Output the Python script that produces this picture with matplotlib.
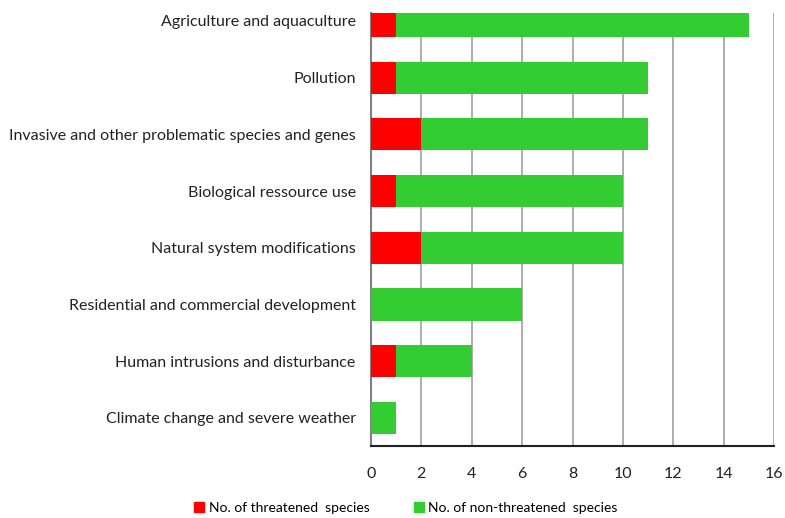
import matplotlib
matplotlib.use("Agg")
import matplotlib.pyplot as plt
from matplotlib.patches import Patch

categories = [
    "Agriculture and aquaculture",
    "Pollution",
    "Invasive and other problematic species and genes",
    "Biological ressource use",
    "Natural system modifications",
    "Residential and commercial development",
    "Human intrusions and disturbance",
    "Climate change and severe weather",
]
threatened = [1, 1, 2, 1, 2, 0, 1, 0]
non_threatened = [14, 10, 9, 9, 8, 6, 3, 1]
x_ticks = [0, 2, 4, 6, 8, 10, 12, 14, 16]

plt.rcParams["font.family"] = ["Lato", "DejaVu Sans"]

fig = plt.figure(figsize=(7.85, 5.18), dpi=100)
ax = fig.add_axes([0.4726, 0.1384, 0.986 - 0.4726, 0.975 - 0.1384])

red = "#FF0000"
green = "#33CC33"
n = len(categories)
ypos = list(range(n - 1, -1, -1))
h = 0.565
ax.barh(ypos, threatened, height=h, color=red, zorder=3)
ax.barh(ypos, non_threatened, left=threatened, height=h, color=green, zorder=3)

ax.set_xlim(0, 16)
ax.set_ylim(-0.5, 7.14)
ax.set_xticks(x_ticks)
ax.set_xticklabels([str(t) for t in x_ticks])
ax.set_yticks(ypos)
ax.set_yticklabels(categories)
ax.tick_params(axis="both", length=0, labelsize=11.5, colors="#222222")
ax.tick_params(axis="x", pad=15)
ax.tick_params(axis="y", pad=11)

ax.grid(axis="x", color="#a0a0a0", linewidth=1.2, zorder=0)
for s in ("top", "right"):
    ax.spines[s].set_visible(False)
ax.spines["left"].set_color("#808080")
ax.spines["left"].set_linewidth(1.5)
ax.spines["bottom"].set_color("#202020")
ax.spines["bottom"].set_linewidth(1.5)

handles = [Patch(color=red, label="No. of threatened  species"),
           Patch(color=green, label="No. of non-threatened  species")]
fig.legend(handles=handles, loc="center", bbox_to_anchor=(0.517, 0.02),
           ncol=2, frameon=False, fontsize=10, handlelength=0.75,
           handleheight=0.75, handletextpad=0.3, columnspacing=3.2)

fig.savefig("out.png", dpi=100)
